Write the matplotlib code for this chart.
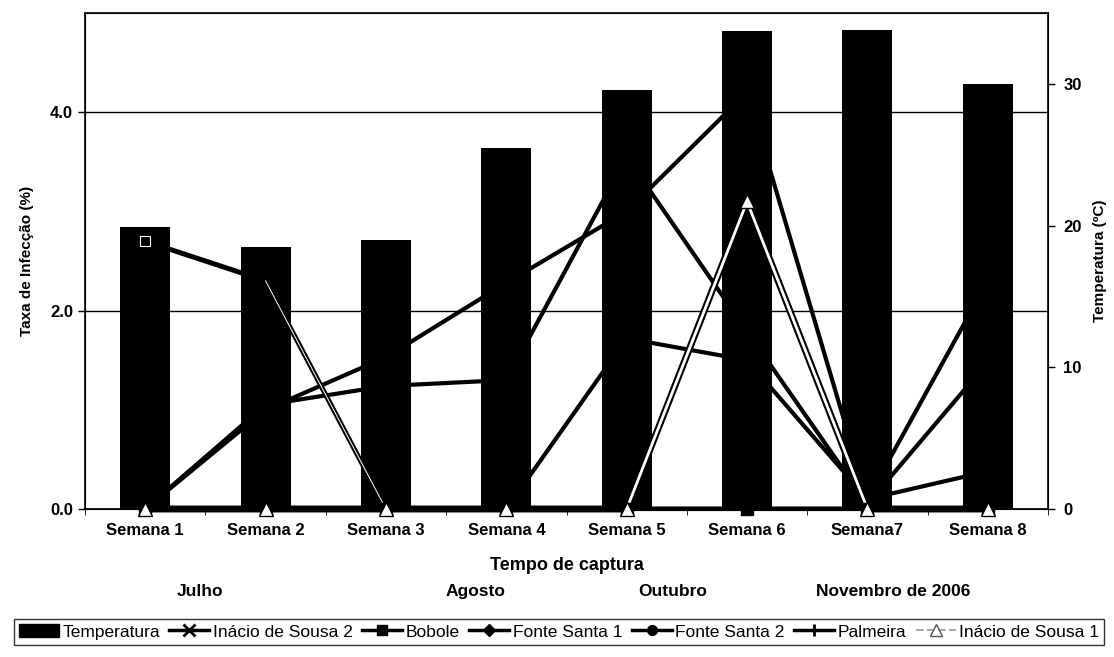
import matplotlib
matplotlib.use("Agg")
import matplotlib.pyplot as plt
from matplotlib.lines import Line2D
from matplotlib.patches import Patch
import numpy as np

plt.rcParams['font.family'] = ['Liberation Sans', 'DejaVu Sans']

categories = ['Semana 1', 'Semana 2', 'Semana 3', 'Semana 4',
              'Semana 5', 'Semana 6', 'Semana7', 'Semana 8']
temperatura = [19.9, 18.5, 19.0, 25.5, 29.6, 33.7, 33.8, 30.0]
inacio_sousa2 = [2.7, 2.3, 0.0, 0.0, 0.0, 0.0, 0.0, 0.0]
bobole = [0.0, 0.0, 0.0, 0.0, 0.0, 0.0, 0.0, 0.0]
fonte_santa1 = [0.0, 1.0, 1.53, 2.28, 3.0, 4.2, 0.1, 2.3]
fonte_santa2 = [0.0, 1.05, 1.24, 1.3, 3.55, 1.79, 0.05, 1.48]
palmeira = [0.0, 0.0, 0.0, 0.0, 1.72, 1.5, 0.1, 0.38]
inacio_sousa1 = [0.0, 0.0, 0.0, 0.0, 0.0, 3.1, 0.0, 0.0]
months = ['Julho', 'Agosto', 'Outubro', 'Novembro de 2006']

fig = plt.figure(figsize=(11.14, 6.57), dpi=100)
ax = fig.add_axes([85/1114, 1-509/657, (1048-85)/1114, (509-13)/657])
ax2 = ax.twinx()
ax.set_zorder(ax2.get_zorder() + 1)
ax.patch.set_visible(False)

x = np.arange(len(categories))

ax2.bar(x, temperatura, width=0.415, color='black', zorder=1)
ax2.set_ylim(0, 35)
ax2.set_yticks([0, 10, 20, 30])
ax2.tick_params(axis='y', direction='out', length=5, width=1, labelsize=12, pad=6)
for t in ax2.get_yticklabels():
    t.set_fontweight('bold')
ax2.set_ylabel('Temperatura (ºC)', fontsize=11, fontweight='bold', labelpad=8)

lw = 3.0
ax.plot(x, fonte_santa1, color='black', lw=lw, marker='D', ms=6, zorder=2)
ax.plot(x, fonte_santa2, color='black', lw=lw, marker='o', ms=7, zorder=2)
ax.plot(x, palmeira, color='black', lw=lw, marker='|', ms=8, mew=2, zorder=2)
ax.plot(x, inacio_sousa2, color='black', lw=lw + 0.6, zorder=2)
ax.plot(x[1:3], inacio_sousa2[1:3], color='white', lw=0.7, zorder=2.1)
ax.plot(x[:1], inacio_sousa2[:1], ls='none', marker='s', ms=7, mfc='none',
        mec='white', mew=0.8, zorder=2.2)
ax.plot(x, inacio_sousa1, color='black', lw=5.0, zorder=3, clip_on=False)
ax.plot(x, inacio_sousa1, color='white', lw=2.0, zorder=3.1, clip_on=False)
ax.plot(x, bobole, color='black', lw=lw, marker='s', ms=8, zorder=3.2, clip_on=False)
ax.plot(x, inacio_sousa1, ls='none', marker='^', ms=10, mfc='white', mec='black',
        mew=1, zorder=4, clip_on=False)

ax.set_xlim(-0.5, len(categories) - 0.5)
ax.set_ylim(0, 5)
ax.set_yticks([0, 2, 4])
ax.set_yticklabels(['0.0', '2.0', '4.0'])
ax.yaxis.grid(True, color='black', lw=1)
ax.set_axisbelow(True)
ax.tick_params(axis='y', direction='out', length=5, width=1, labelsize=12)
for t in ax.get_yticklabels():
    t.set_fontweight('bold')
ax.set_xticks(x)
ax.set_xticklabels(categories, fontsize=12, fontweight='bold')
ax.set_xticks(np.arange(len(categories) + 1) - 0.5, minor=True)
ax.tick_params(axis='x', which='major', length=0, pad=10)
ax.tick_params(axis='x', which='minor', length=4, direction='out')
ax.set_ylabel('Taxa de Infecção (%)', fontsize=11, fontweight='bold', labelpad=12)
ax.set_xlabel('Tempo de captura', fontsize=13, fontweight='bold', labelpad=14)
for s in ax.spines.values():
    s.set_linewidth(1.2)

month_x = [200, 475, 673, 893]
for m, mx in zip(months, month_x):
    fig.text(mx/1114, 1-596/657, m, ha='center', va='baseline', fontsize=12.5,
             fontweight='bold')

handles = [
    Patch(facecolor='black', edgecolor='black'),
    Line2D([], [], color='black', lw=2.5, marker='x', ms=8, mew=2),
    Line2D([], [], color='black', lw=2.5, marker='s', ms=7),
    Line2D([], [], color='black', lw=2.5, marker='D', ms=6),
    Line2D([], [], color='black', lw=2.5, marker='o', ms=7),
    Line2D([], [], color='black', lw=2.5, marker='|', ms=8, mew=2),
    Line2D([], [], color='#aaaaaa', lw=1.5, ls='--', marker='^', ms=8, mfc='white',
           mec='#555555'),
]
labels = ['Temperatura', 'Inácio de Sousa 2', 'Bobole', 'Fonte Santa 1',
          'Fonte Santa 2', 'Palmeira', 'Inácio de Sousa 1']
leg = fig.legend(handles, labels, loc='center', bbox_to_anchor=(559/1114, 1-632/657),
                 ncol=7, frameon=True, fancybox=False, edgecolor='black',
                 fontsize=12.5, handlelength=2.3, handletextpad=0.2, columnspacing=0.55,
                 borderpad=0.3)
leg.get_frame().set_linewidth(1.0)

fig.savefig('out.png', dpi=100)
